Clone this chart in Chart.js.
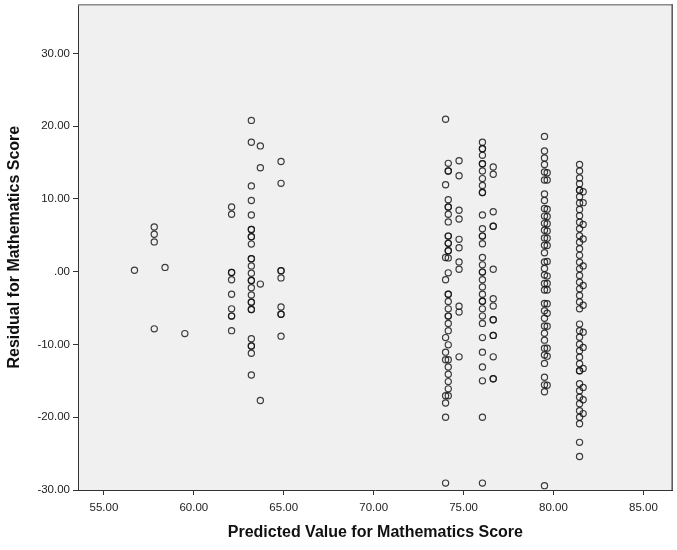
<!DOCTYPE html>
<html>
<head>
<meta charset="utf-8">
<script src="https://cdn.jsdelivr.net/npm/chart.js@4.4.1/dist/chart.umd.min.js"></script>
<style>
  html, body { margin: 0; padding: 0; background: #ffffff; }
  #wrap { width: 677px; height: 550px; }
</style>
</head>
<body>
<div id="wrap"><canvas id="chart" width="677" height="550"></canvas></div>
<script>
// Axis tick labels
const xTicks = [55, 60, 65, 70, 75, 80, 85];
const yTicks = [-30, -20, -10, 0, 10, 20, 30];

// Predicted value (x) shared by each group of cases
const groupPredicted = [56.7, 57.8, 58.4, 59.5, 62.1, 63.2, 63.7, 64.85,
                        74.0, 74.15, 74.75, 76.05, 76.65, 79.5, 79.65, 81.45, 81.65];

// Residuals for each predicted value, in the same order
const res567 = [0.2];
const res578 = [6.15, 5.15, 4.1, -7.85];
const res584 = [0.6];
const res595 = [-8.5];
const res621 = [8.9, 7.9, -0.1, -0.1, -1.1, -3.1, -5.1, -6.1, -6.1, -8.1];
const res632 = [20.8, 17.8, 11.8, 9.8, 7.8, 5.8, 5.8, 4.8, 4.8, 3.8, 1.8, 1.8, 0.8, -0.2,
                -1.2, -1.2, -2.2, -3.2, -4.2, -4.2, -5.2, -5.2, -9.2, -10.2, -10.2, -11.2, -14.2];
const res637 = [17.3, 14.3, -1.7, -17.7];
const res6485 = [15.15, 12.15, 0.15, 0.15, -0.85, -4.85, -5.85, -5.85, -8.85];
const res740 = [20.95, 11.95, 1.95, -1.1, -9.05, -11.05, -12.1, -17.05, -18.05, -20.0, -29.05];
const res7415 = [14.9, 13.85, 13.85, 9.9, 8.9, 8.9, 7.9, 6.85, 4.9, 4.9, 3.9, 3.9, 2.9, 2.9,
                 1.9, -0.15, -3.1, -3.1, -4.1, -5.1, -6.1, -6.1, -7.1, -8.1, -10.05, -12.1,
                 -13.1, -14.1, -15.1, -16.1, -17.05];
const res7475 = [15.25, 13.2, 8.45, 7.25, 4.45, 3.3, 1.35, 0.35, -4.75, -5.55, -11.7];
const res7605 = [17.8, 16.9, 16.9, 16.0, 14.85, 14.85, 13.85, 12.8, 11.85, 10.9, 10.9, 7.8,
                 5.9, 4.9, 4.9, 3.85, 1.95, 0.95, -0.05, -0.05, -1.1, -2.1, -3.1, -4.05, -4.05,
                 -5.1, -6.1, -7.1, -9.05, -11.05, -13.1, -15.0, -20.0, -29.05];
const res7665 = [14.4, 13.4, 8.25, 6.25, 6.25, 0.35, -3.7, -4.7, -6.6, -6.6, -8.75, -8.75,
                 -11.7, -14.7, -14.7];
const res795 = [18.6, 16.6, 15.65, 14.75, 13.7, 12.6, 10.7, 9.8, 8.7, 7.65, 6.65, 5.7, 4.65,
                3.65, 2.6, 1.35, 0.45, -0.45, -1.6, -2.5, -4.35, -5.35, -6.4, -7.45, -8.45,
                -9.4, -10.5, -11.45, -12.6, -14.5, -15.55, -16.5, -29.4];
const res7965 = [13.6, 12.6, 8.6, 7.6, 6.6, 5.6, 4.6, 3.6, 1.4, -0.6, -1.6, -2.5, -4.4, -5.7,
                 -7.5, -10.5, -11.6, -15.6];
const res8145 = [14.75, 13.85, 12.9, 12.1, 11.2, 11.2, 10.3, 9.45, 8.55, 7.7, 6.8, 5.9, 4.95,
                 4.05, 3.15, 2.25, 1.3, 0.4, -0.5, -1.45, -2.35, -3.25, -4.15, -5.1, -7.2, -8.1,
                 -9.0, -9.95, -10.85, -11.75, -12.65, -13.6, -13.6, -15.4, -16.35, -17.25,
                 -18.15, -19.1, -20.0, -20.9, -23.45, -25.4];
const res8165 = [11.0, 9.5, 6.5, 4.5, 0.8, -1.9, -4.6, -8.3, -10.4, -13.3, -15.9, -17.6, -19.5];

const groupResiduals = [res567, res578, res584, res595, res621, res632, res637, res6485,
                        res740, res7415, res7475, res7605, res7665, res795, res7965, res8145, res8165];

// Flatten into scatter points
const points = [];
groupResiduals.forEach((list, i) => {
  list.forEach(r => points.push({ x: groupPredicted[i], y: r }));
});

const fmt = v => (v === 0 ? '.00' : v.toFixed(2));

// Shaded plot area with a thin frame, as in SPSS output
const plotFrame = {
  id: 'plotFrame',
  beforeDraw(chart) {
    const { ctx, chartArea: a } = chart;
    ctx.save();
    ctx.fillStyle = '#f0f0f0';
    ctx.fillRect(a.left, a.top, a.right - a.left, a.bottom - a.top);
    ctx.restore();
  },
  afterDraw(chart) {
    const { ctx, chartArea: a } = chart;
    ctx.save();
    ctx.lineWidth = 1.5;
    ctx.strokeStyle = '#8a8a8a';
    ctx.beginPath();
    ctx.moveTo(a.left, a.top + 0.5);
    ctx.lineTo(a.right, a.top + 0.5);
    ctx.stroke();
    ctx.strokeStyle = '#555555';
    ctx.beginPath();
    ctx.moveTo(a.right - 0.5, a.top);
    ctx.lineTo(a.right - 0.5, a.bottom);
    ctx.stroke();
    ctx.restore();
  }
};

const tickFont = { family: 'Arial, "Liberation Sans", sans-serif', size: 11.5 };
const titleFont = { family: 'Arial, "Liberation Sans", sans-serif', size: 16, weight: 'bold' };

new Chart(document.getElementById('chart'), {
  type: 'scatter',
  data: {
    datasets: [{
      data: points,
      pointStyle: 'circle',
      pointRadius: 3.1,
      pointHoverRadius: 3.1,
      pointBorderWidth: 1.2,
      pointBorderColor: 'rgba(20,20,20,0.82)',
      pointBackgroundColor: 'rgba(0,0,0,0)'
    }]
  },
  options: {
    responsive: false,
    animation: false,
    layout: { padding: { top: 4, right: 3, left: 0, bottom: 0 } },
    plugins: { legend: { display: false }, tooltip: { enabled: false } },
    scales: {
      x: {
        type: 'linear',
        min: 53.56,
        max: 86.63,
        afterBuildTicks: axis => { axis.ticks = xTicks.map(v => ({ value: v })); },
        afterFit: scale => { scale.height = 60; scale.paddingLeft = 0; scale.paddingRight = 0; },
        ticks: { callback: v => fmt(v), color: '#222', font: tickFont, padding: 6, maxRotation: 0 },
        grid: { drawOnChartArea: false, drawTicks: true, tickLength: 5, color: '#333' },
        border: { display: true, color: '#333', width: 1 },
        title: {
          display: true,
          text: 'Predicted Value for Mathematics Score',
          color: '#111',
          font: titleFont,
          padding: { top: 0, bottom: 8 }
        }
      },
      y: {
        type: 'linear',
        min: -30,
        max: 36.76,
        afterBuildTicks: axis => { axis.ticks = yTicks.map(v => ({ value: v })); },
        afterFit: scale => { scale.width = 78; scale.paddingTop = 0; scale.paddingBottom = 0; },
        ticks: { callback: v => fmt(v), color: '#222', font: tickFont, padding: 3 },
        grid: { drawOnChartArea: false, drawTicks: true, tickLength: 5, color: '#333' },
        border: { display: true, color: '#333', width: 1 },
        title: {
          display: true,
          text: 'Residual for Mathematics Score',
          color: '#111',
          font: titleFont,
          padding: { top: 5, bottom: 0 }
        }
      }
    }
  },
  plugins: [plotFrame]
});
</script>
</body>
</html>
